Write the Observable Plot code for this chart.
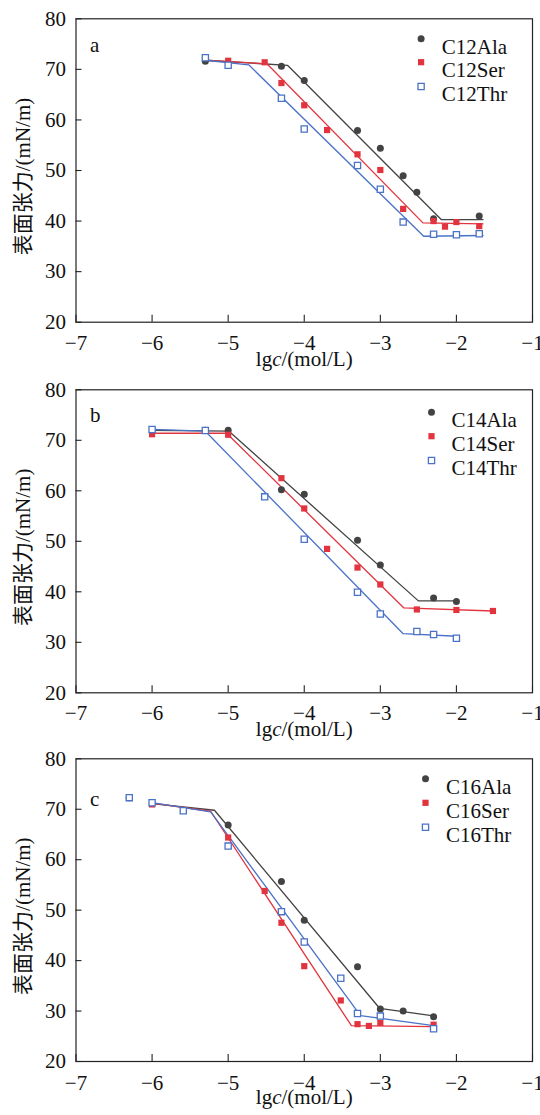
<!DOCTYPE html>
<html><head><meta charset="utf-8">
<script src="https://cdn.jsdelivr.net/npm/d3@7"></script>
<script src="https://cdn.jsdelivr.net/npm/@observablehq/plot@0.6"></script>
<style>body{margin:0;background:#fff} svg{display:block} svg text{font-family:"Liberation Serif","Noto Sans CJK SC",serif !important;}</style>
</head><body><div id="chart"></div>
<script>
const xTicks = [-7, -6, -5, -4, -3, -2, -1];
const yTicks = [20, 30, 40, 50, 60, 70, 80];
const xLabel = "lgc/(mol/L)";
const yLabel = "表面张力/(mN/m)";

// Panel a (C12)
const aNames = ["C12Ala", "C12Ser", "C12Thr"];
const aAlaX = [-5.3, -4.3, -4.0, -3.3, -3.0, -2.7, -2.52, -2.3, -1.7];
const aAlaY = [71.6, 70.6, 67.8, 57.9, 54.4, 48.95, 45.7, 40.45, 41.0];
const aSerX = [-5.0, -4.52, -4.3, -4.0, -3.7, -3.3, -3.0, -2.7, -2.3, -2.15, -2.0, -1.7];
const aSerY = [71.7, 71.4, 67.3, 62.9, 58.0, 53.2, 50.1, 42.4, 40.0, 38.9, 39.8, 39.0];
const aThrX = [-5.3, -5.0, -4.3, -4.0, -3.3, -3.0, -2.7, -2.3, -2.0, -1.7];
const aThrY = [72.3, 70.8, 64.3, 58.2, 51.0, 46.3, 39.8, 37.4, 37.3, 37.5];
const aAlaFitX = [-5.3, -4.22, -2.2, -1.65];
const aAlaFitY = [71.8, 70.8, 40.3, 40.3];
const aSerFitX = [-5.3, -4.49, -2.44, -1.65];
const aSerFitY = [71.8, 71.1, 39.65, 39.45];
const aThrFitX = [-5.3, -4.73, -2.43, -1.65];
const aThrFitY = [71.8, 70.9, 37.0, 37.15];

// Panel b (C14)
const bNames = ["C14Ala", "C14Ser", "C14Thr"];
const bAlaX = [-5.3, -5.0, -4.3, -4.0, -3.3, -3.0, -2.3, -2.0];
const bAlaY = [72.0, 72.0, 60.2, 59.3, 50.2, 45.3, 38.75, 38.1];
const bSerX = [-6.0, -5.0, -4.3, -4.0, -3.7, -3.3, -3.0, -2.52, -2.0, -1.52];
const bSerY = [71.2, 71.1, 62.5, 56.5, 48.5, 44.8, 41.45, 36.5, 36.4, 36.2];
const bThrX = [-6.0, -5.3, -4.52, -4.0, -3.3, -3.0, -2.52, -2.3, -2.0];
const bThrY = [72.15, 71.95, 58.8, 50.4, 39.9, 35.6, 32.15, 31.55, 30.8];
const bAlaFitX = [-6.0, -4.99, -2.5, -2.0];
const bAlaFitY = [71.95, 71.8, 38.2, 38.2];
const bSerFitX = [-6.0, -5.02, -2.69, -1.52];
const bSerFitY = [71.4, 71.4, 36.8, 36.2];
const bThrFitX = [-6.0, -5.3, -2.7, -2.0];
const bThrFitY = [72.15, 71.8, 31.7, 31.2];

// Panel c (C16)
const cNames = ["C16Ala", "C16Ser", "C16Thr"];
const cAlaX = [-6.3, -5.0, -4.3, -4.0, -3.3, -3.0, -2.7, -2.3];
const cAlaY = [72.3, 66.9, 55.7, 48.0, 38.8, 30.4, 30.0, 28.85];
const cSerX = [-6.0, -5.0, -4.52, -4.3, -4.0, -3.52, -3.3, -3.15, -3.0, -2.3];
const cSerY = [70.95, 64.4, 53.8, 47.5, 38.9, 32.1, 27.4, 27.05, 27.65, 27.3];
const cThrX = [-6.3, -6.0, -5.59, -5.0, -4.3, -4.0, -3.52, -3.3, -3.0, -2.3];
const cThrY = [72.3, 71.3, 69.7, 62.7, 49.7, 43.7, 36.5, 29.5, 29.0, 26.5];
const cAlaFitX = [-6.0, -5.18, -3.01, -2.3];
const cAlaFitY = [71.1, 69.8, 30.55, 29.05];
const cSerFitX = [-6.0, -5.23, -3.38, -2.3];
const cSerFitY = [71.2, 69.6, 27.1, 26.9];
const cThrFitX = [-6.0, -5.23, -3.26, -2.3];
const cThrFitY = [71.3, 69.5, 29.1, 27.1];

const zip = (xs, ys) => xs.map((x, i) => ({x, y: ys[i]}));

const COLORS = ["#434343", "#e2343f", "#4a72c6"];
const SYMBOLS = ["circle", "square", "square"];
const FILLS = ["#434343", "#e2343f", "#fff"];
const STROKES = ["none", "none", "#4a72c6"];
const FONT = "Liberation Serif";

function panel(cfg) {
  const W = 540, ml = 75.5, mr = 8;
  const ph = cfg.height - cfg.mt - cfg.mb;
  const pw = W - ml - mr;
  const marks = [];
  marks.push(Plot.tickX(xTicks, {x: d => d, insetTop: ph - 7, stroke: "#222", strokeWidth: 1.1}));
  marks.push(Plot.tickY(yTicks, {y: d => d, insetRight: pw - 6, stroke: "#222", strokeWidth: 1.1}));
  marks.push(Plot.axisX(xTicks, {tickSize: 0, tickPadding: cfg.xPad, label: null, fontFamily: FONT, fontSize: 21, fill: "#111"}));
  marks.push(Plot.axisY(yTicks, {tickSize: 0, tickPadding: 10, label: null, fontFamily: FONT, fontSize: 21, fill: "#111"}));
  cfg.fits.forEach((f, i) => {
    marks.push(Plot.line(zip(f[0], f[1]), {x: "x", y: "y", stroke: COLORS[i], strokeWidth: 1.3}));
  });
  cfg.pts.forEach((p, i) => {
    marks.push(Plot.dot(zip(p[0], p[1]), {x: "x", y: "y", r: 3.5, symbol: SYMBOLS[i], fill: FILLS[i], stroke: STROKES[i], strokeWidth: 1.3}));
  });
  cfg.names.forEach((n, i) => {
    marks.push(Plot.dot([n], {frameAnchor: "top-right", dx: cfg.legSym, dy: cfg.legRows[i], r: 3.5, symbol: SYMBOLS[i], fill: FILLS[i], stroke: STROKES[i], strokeWidth: 1.3}));
    marks.push(Plot.text([n], {text: d => d, frameAnchor: "top-right", textAnchor: "start", dx: cfg.legText, dy: cfg.legRows[i], fontSize: 21, fontFamily: FONT, fill: "#111"}));
  });
  marks.push(Plot.text([cfg.letter], {text: d => d, frameAnchor: "top-left", textAnchor: "start", dx: 14, dy: cfg.letterDy, fontSize: 21, fontFamily: FONT, fill: "#111"}));
  marks.push(Plot.text([xLabel], {text: d => d, frameAnchor: "bottom", textAnchor: "middle", dy: cfg.xLabDy, fontSize: 21, fontFamily: FONT, fill: "#111"}));
  // y label: centred on the frame middle, shifted left to the margin
  marks.push(Plot.text([yLabel], {text: d => d, frameAnchor: "middle", textAnchor: "middle", rotate: -90, dx: 22.5 - (ml + pw / 2), dy: 6, fontSize: 21, fontFamily: FONT, fill: "#111"}));
  marks.push(Plot.frame({stroke: "#222", strokeWidth: 1.2}));
  const svg = Plot.plot({
    width: W, height: cfg.height,
    marginLeft: ml, marginRight: mr, marginTop: cfg.mt, marginBottom: cfg.mb,
    x: {domain: [-7, -1]},
    y: {domain: [20, 80]},
    style: {fontFamily: FONT, fontSize: "21px", color: "#111", background: "#fff", overflow: "visible"},
    marks
  });
  d3.select(svg).selectAll("text").filter(function() { return this.textContent === xLabel; })
    .each(function() {
      const t = d3.select(this);
      t.text(null);
      t.append("tspan").text("lg");
      t.append("tspan").attr("font-style", "italic").text("c");
      t.append("tspan").text("/(mol/L)");
    });
  d3.select(svg).selectAll("text").filter(function() { return this.textContent === yLabel; })
    .attr("text-anchor", "middle").style("text-anchor", "middle");
  return svg;
}

const root = document.getElementById("chart");
root.appendChild(panel({
  letter: "a", names: aNames, height: 370, mt: 18.3, mb: 48.3, xPad: 12.5, xLabDy: 43.3,
  pts: [[aAlaX, aAlaY], [aSerX, aSerY], [aThrX, aThrY]],
  fits: [[aAlaFitX, aAlaFitY], [aSerFitX, aSerFitY], [aThrFitX, aThrFitY]],
  legSym: -111.4, legText: -90.7, legRows: [20, 43.4, 67.7], letterDy: 18
}));
root.appendChild(panel({
  letter: "b", names: bNames, height: 370, mt: 19.3, mb: 47.7, xPad: 12.5, xLabDy: 43.3,
  pts: [[bAlaX, bAlaY], [bSerX, bSerY], [bThrX, bThrY]],
  fits: [[bAlaFitX, bAlaFitY], [bSerFitX, bSerFitY], [bThrFitX, bThrFitY]],
  legSym: -101, legText: -81, legRows: [22.4, 46.4, 70.7], letterDy: 17
}));
root.appendChild(panel({
  letter: "c", names: cNames, height: 375, mt: 18.3, mb: 54, xPad: 13.5, xLabDy: 42.5,
  pts: [[cAlaX, cAlaY], [cSerX, cSerY], [cThrX, cThrY]],
  fits: [[cAlaFitX, cAlaFitY], [cSerFitX, cSerFitY], [cThrFitX, cThrFitY]],
  legSym: -107, legText: -86.5, legRows: [20, 44, 68.4], letterDy: 32.6
}));
</script>
</body></html>
